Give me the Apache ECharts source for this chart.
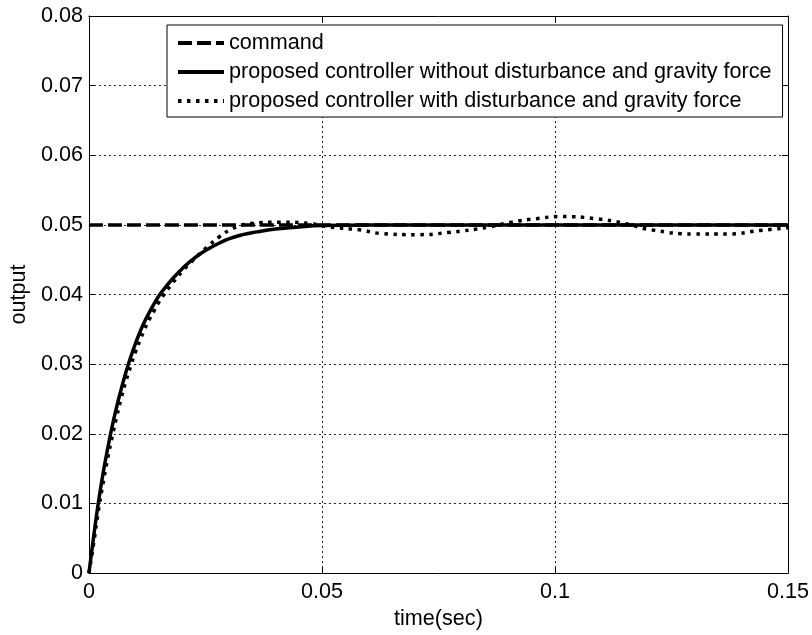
<!DOCTYPE html>
<html>
<head>
<meta charset="utf-8">
<script src="https://cdn.jsdelivr.net/npm/echarts@6/dist/echarts.min.js"></script>
<style>
  html, body { margin: 0; padding: 0; background: #fff; }
  #chart { width: 812px; height: 635px; }
</style>
</head>
<body>
<div id="chart"></div>
<script>
// values
const seriesNames = [
  "command",
  "proposed controller without disturbance and gravity force",
  "proposed controller with disturbance and gravity force"
];
const commandData = [[0, 0.05], [0.15, 0.05]];
const nominalData = [
  [0, 0], [0.001, 0.0052], [0.002, 0.0100], [0.003, 0.0142], [0.004, 0.0178],
  [0.005, 0.0211], [0.006, 0.0240], [0.007, 0.0266], [0.008, 0.0290],
  [0.009, 0.0311], [0.010, 0.0330], [0.011, 0.0347], [0.012, 0.0362],
  [0.013, 0.0375], [0.014, 0.0387], [0.015, 0.0398], [0.016, 0.0407],
  [0.018, 0.0423], [0.020, 0.0437], [0.022, 0.0449], [0.024, 0.0459],
  [0.026, 0.0467], [0.028, 0.0474], [0.030, 0.0480], [0.033, 0.0486],
  [0.036, 0.0490], [0.040, 0.0494], [0.045, 0.0497], [0.050, 0.0499],
  [0.060, 0.0500], [0.15, 0.0500]
];
const disturbedData = [
  [0, 0], [0.001, 0.0042], [0.002, 0.0088], [0.003, 0.0128], [0.004, 0.0164],
  [0.005, 0.0196], [0.006, 0.0226], [0.007, 0.0253], [0.008, 0.0277],
  [0.009, 0.0298], [0.010, 0.0318], [0.011, 0.0335], [0.012, 0.0351],
  [0.013, 0.0365], [0.014, 0.0377], [0.015, 0.0389], [0.016, 0.0399],
  [0.018, 0.0417], [0.020, 0.0433], [0.022, 0.0447], [0.024, 0.0460],
  [0.026, 0.0472], [0.028, 0.0483], [0.0303, 0.0493], [0.0325, 0.0499],
  [0.0346, 0.0502], [0.041, 0.0504], [0.0474, 0.0502], [0.0516, 0.0497],
  [0.058, 0.0493], [0.0623, 0.0488], [0.0702, 0.0486], [0.077, 0.0489],
  [0.0858, 0.0497], [0.0907, 0.0504], [0.096, 0.0509], [0.1014, 0.0512],
  [0.1086, 0.0509], [0.115, 0.0502], [0.1206, 0.0493], [0.130, 0.0487],
  [0.137, 0.0487], [0.144, 0.0492], [0.150, 0.0496]
];
const xRange = [0, 0.15, 0.05];
const yRange = [0, 0.08, 0.01];

const font = "'Liberation Sans', Arial, sans-serif";
const fontSize = 21.6;
const gridLine = { show: true, lineStyle: { color: "#222", width: 1, type: [2, 3] } };
const box = { show: true, onZero: false, lineStyle: { color: "#000", width: 1 } };
const tick = { show: true, inside: true, length: 6, lineStyle: { color: "#000" } };

const styles = [
  { width: 3.5, type: [14, 5] },
  { width: 3.5, type: "solid" },
  { width: 3.5, type: [3.5, 5.5] }
];

const chart = echarts.init(document.getElementById("chart"), null, { renderer: "canvas" });
chart.setOption({
  animation: false,
  backgroundColor: "#fff",
  textStyle: { fontFamily: font },
  grid: { left: 88, right: 21, top: 16, bottom: 58 },
  legend: {
    show: true,
    orient: "vertical",
    left: 167,
    top: 25,
    padding: [7, 11, 5, 9],
    itemGap: 7,
    itemWidth: 46,
    itemHeight: 14,
    backgroundColor: "#fff",
    borderColor: "#000",
    borderWidth: 1,
    itemStyle: { opacity: 0, borderWidth: 0 },
    textStyle: { fontFamily: font, fontSize: fontSize, lineHeight: 21, color: "#000" },
    data: seriesNames.map((name, i) => ({
      name: name,
      itemStyle: { opacity: 0, borderWidth: 0 },
      lineStyle: { color: "#000", width: styles[i].width + 0.5, type: styles[i].type }
    }))
  },
  xAxis: [
    {
      type: "value", min: xRange[0], max: xRange[1], interval: xRange[2],
      position: "bottom",
      name: "time(sec)", nameLocation: "middle", nameGap: 31,
      nameTextStyle: { fontFamily: font, fontSize: fontSize, color: "#000" },
      axisLine: box, axisTick: tick, splitLine: gridLine,
      axisLabel: { fontFamily: font, fontSize: fontSize, color: "#000", margin: 8 }
    },
    {
      type: "value", min: xRange[0], max: xRange[1], interval: xRange[2],
      position: "top",
      axisLine: box, axisTick: tick, splitLine: { show: false },
      axisLabel: { show: false }
    }
  ],
  yAxis: [
    {
      type: "value", min: yRange[0], max: yRange[1], interval: yRange[2],
      position: "left",
      name: "output", nameLocation: "middle", nameGap: 58, nameRotate: 90,
      nameTextStyle: { fontFamily: font, fontSize: fontSize, color: "#000" },
      axisLine: box, axisTick: tick, splitLine: gridLine,
      axisLabel: { fontFamily: font, fontSize: fontSize, color: "#000", margin: 6 }
    },
    {
      type: "value", min: yRange[0], max: yRange[1], interval: yRange[2],
      position: "right",
      axisLine: box, axisTick: tick, splitLine: { show: false },
      axisLabel: { show: false }
    }
  ],
  series: [
    {
      name: seriesNames[0], type: "line", data: commandData,
      showSymbol: false, symbol: "none",
      lineStyle: { color: "#000", width: styles[0].width, type: styles[0].type, cap: "butt" },
      itemStyle: { color: "#000" }
    },
    {
      name: seriesNames[1], type: "line", data: nominalData,
      showSymbol: false, symbol: "none", smooth: 0.5,
      lineStyle: { color: "#000", width: styles[1].width },
      itemStyle: { color: "#000" }
    },
    {
      name: seriesNames[2], type: "line", data: disturbedData,
      showSymbol: false, symbol: "none", smooth: 0.5,
      lineStyle: { color: "#000", width: styles[2].width, type: styles[2].type, cap: "butt" },
      itemStyle: { color: "#000" }
    }
  ]
});
</script>
</body>
</html>
